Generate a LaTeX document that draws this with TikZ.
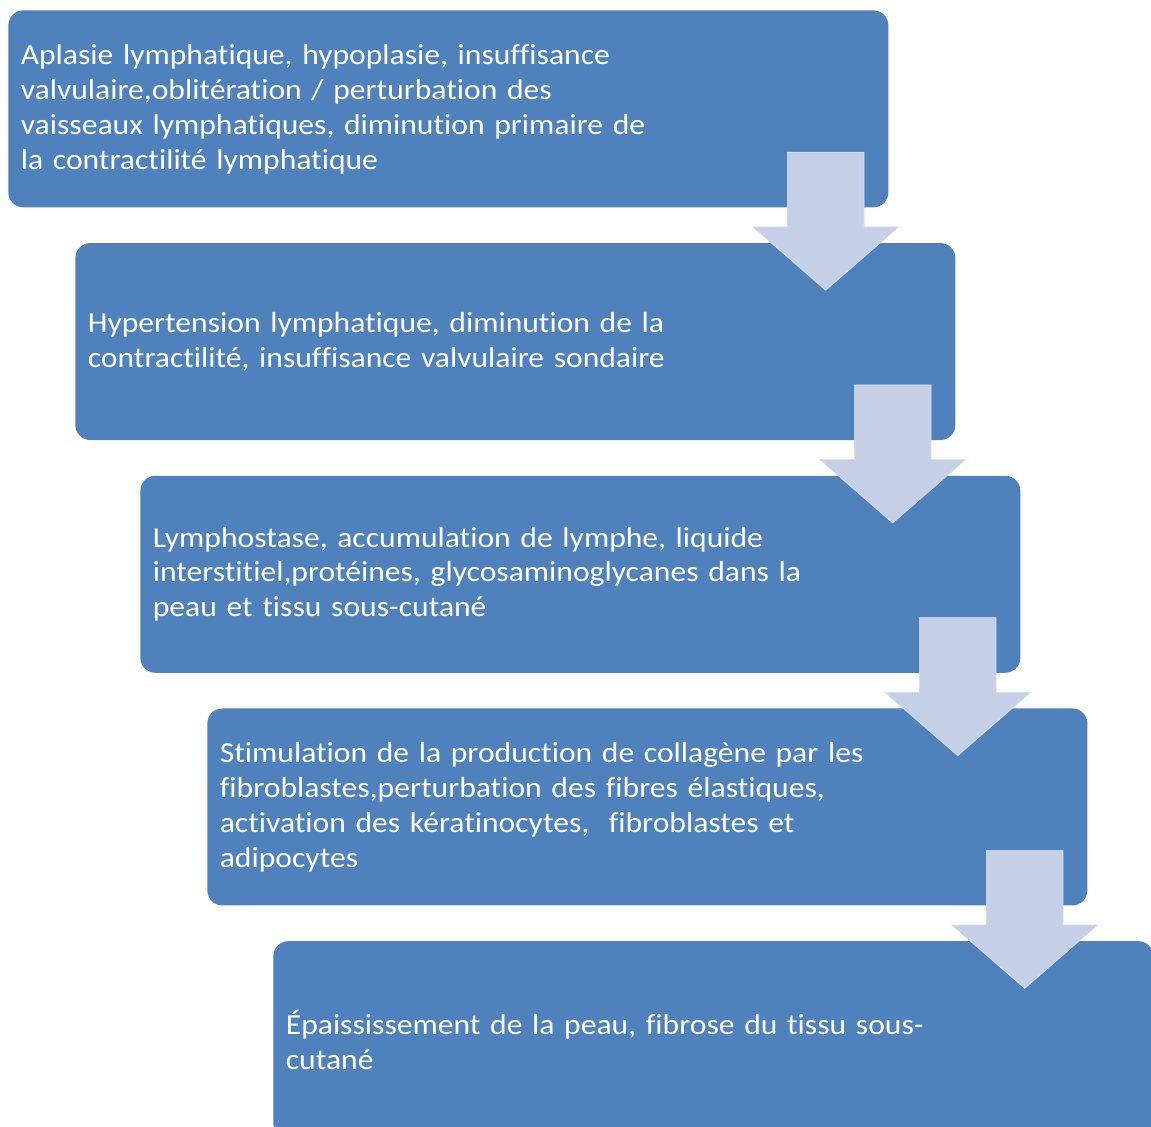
\documentclass[tikz,border=0pt]{standalone}
\usepackage{fontspec}
\setmainfont{Carlito}[Ligatures=NoCommon,FakeStretch=1.09]
\usetikzlibrary{shapes.arrows,positioning,calc}
\definecolor{BoxBlue}{HTML}{4F81BD}
\definecolor{ArrowGrey}{HTML}{C5D0E6}
\definecolor{ArrowEdge}{HTML}{D6DEEE}
\tikzset{
    % Rounded blue step boxes
    stagebox/.style={
        rectangle,
        rounded corners=0.3cm,
        fill=BoxBlue,
        draw=none,
        text=white,
        minimum width=17.6cm,
        minimum height=3.94cm,
        text width=17.1cm,
        inner xsep=0.25cm,
        align=left,
        font=\fontsize{16.5}{19.9}\selectfont
    },
    downarrow/.style={
        single arrow,
        shape border rotate=270,
        fill=ArrowGrey,
        draw=ArrowEdge,
        thin,
        inner sep=0.76cm,
        minimum height=2.76cm,
        minimum width=2.9cm,
        single arrow head extend=0.69cm,
        single arrow tip angle=98
    }
}
\begin{document}
\begin{tikzpicture}
    \useasboundingbox (0,0) rectangle (23.02,-22.54);

    \node[stagebox, anchor=north west] (aplasie) at (0.16,-0.2) {
        Aplasie lymphatique, hypoplasie, insuffisance\\
        valvulaire,oblitération / perturbation des\\
        vaisseaux lymphatiques, diminution primaire de\\
        la contractilité lymphatique
    };

    \node[stagebox, below right=0.7cm and 1.34cm of aplasie.south west] (hypertension) {
        Hypertension lymphatique, diminution de la\\
        contractilité, insuffisance valvulaire sondaire
    };

    \node[stagebox, below right=0.7cm and 1.3cm of hypertension.south west] (lymphostase) {
        Lymphostase, accumulation de lymphe, liquide\\
        interstitiel,protéines, glycosaminoglycanes dans la\\
        peau et tissu sous-cutané
    };

    \node[stagebox, below right=0.7cm and 1.34cm of lymphostase.south west] (stimulation) {
        Stimulation de la production de collagène par les\\
        fibroblastes,perturbation des fibres élastiques,\\
        activation des kératinocytes,~ fibroblastes et\\
        adipocytes
    };

    \node[stagebox, below right=0.7cm and 1.32cm of stimulation.south west] (epaississement) {
        Épaississement de la peau, fibrose du tissu sous-\\
        cutané
    };

    % Arrows
    \foreach \stage/\name in {aplasie/arrA, hypertension/arrB, lymphostase/arrC, stimulation/arrD}
        \node[downarrow, anchor=tip] (\name) at ($(\stage.south east)+(-1.26,-1.66)$) {};
\end{tikzpicture}
\end{document}
